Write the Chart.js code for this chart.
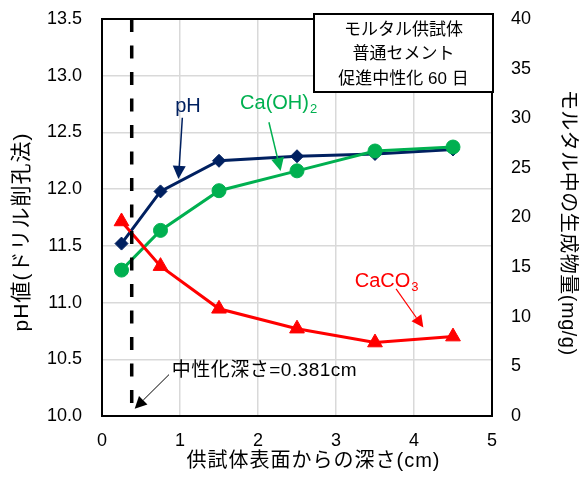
<!DOCTYPE html>
<html>
<head>
<meta charset="utf-8">
<script src="https://cdn.jsdelivr.net/npm/chart.js@4"></script>
<style>
  html, body { margin: 0; padding: 0; background: #fff; }
  #wrap { width: 579px; height: 479px; }
</style>
</head>
<body>
<div id="wrap"><canvas id="c" width="579" height="479"></canvas></div>
<script>
// Depth from the specimen surface (cm)
const depths = [0.25, 0.75, 1.5, 2.5, 3.5, 4.5];
// pH by drilling method (left axis)
const phValues = [11.52, 11.98, 12.25, 12.29, 12.31, 12.35];
// Products in mortar, mg/g (right axis)
const caOH2Values = [14.7, 18.7, 22.7, 24.7, 26.7, 27.1];
const caCO3Values = [19.6, 15.1, 10.8, 8.8, 7.4, 8.0];
// Carbonation depth (cm)
const carbonationDepth = 0.381;

// Axis ticks
const phTicks = [10.0, 10.5, 11.0, 11.5, 12.0, 12.5, 13.0, 13.5];
const amountTicks = [0, 5, 10, 15, 20, 25, 30, 35, 40];
const depthTicks = [0, 1, 2, 3, 4, 5];

// Axis titles
const xTitle = '供試体表面からの深さ(cm)';
const yTitle = 'pH値(ドリル削孔法)';
const y1Title = 'モルタル中の生成物量(mg/g)';

const boxLines = ['モルタル供試体', '普通セメント', '促進中性化 60 日'];

const NAVY = '#002060';
const GREEN = '#00B050';
const RED = '#FF0000';
const FONT = "'Liberation Sans', 'Noto Sans CJK JP', sans-serif";

Chart.defaults.font.family = FONT;
Chart.defaults.color = '#000';

const pts = (xs, ys) => xs.map((x, i) => ({ x, y: ys[i] }));

// Callout labels with arrows, placed in depth / pH units
const callouts = [
  { text: 'pH', sub: '', color: NAVY, size: 20, spacing: 0, align: 'center', at: [1.103, 12.73],
    from: [1.03, 12.63], to: [0.98, 12.09], lw: 1.5, head: 13 },
  { text: 'Ca(OH)', sub: '2', color: GREEN, size: 20, spacing: 0, align: 'left', at: [1.77, 12.757],
    from: [2.14, 12.59], to: [2.29, 12.16], lw: 1.5, head: 13 },
  { text: 'CaCO', sub: '3', color: RED, size: 20, spacing: 0, align: 'left', at: [3.24, 11.19],
    from: [3.77, 11.12], to: [4.12, 10.78], lw: 1.2, head: 12 },
  { text: '中性化深さ=' + carbonationDepth + 'cm', sub: '', color: '#000', size: 19, spacing: 0.5, align: 'left', at: [0.894, 10.397],
    from: [0.859, 10.365], to: [0.419, 10.065], lw: 1, head: 12 }
];

function arrow(ctx, x1, y1, x2, y2, color, lw, head) {
  const ang = Math.atan2(y2 - y1, x2 - x1);
  const bx = x2 - Math.cos(ang) * head, by = y2 - Math.sin(ang) * head;
  ctx.save();
  ctx.strokeStyle = color;
  ctx.fillStyle = color;
  ctx.lineWidth = lw;
  ctx.beginPath();
  ctx.moveTo(x1, y1);
  ctx.lineTo(bx, by);
  ctx.stroke();
  const hw = head * 0.5;
  ctx.beginPath();
  ctx.moveTo(x2, y2);
  ctx.lineTo(bx + Math.sin(ang) * hw, by - Math.cos(ang) * hw);
  ctx.lineTo(bx - Math.sin(ang) * hw, by + Math.cos(ang) * hw);
  ctx.closePath();
  ctx.fill();
  ctx.restore();
}

function rotatedText(ctx, text, x, y, rot, size, spacing) {
  ctx.save();
  ctx.translate(x, y);
  ctx.rotate(rot);
  ctx.font = size + 'px ' + FONT;
  ctx.letterSpacing = spacing + 'px';
  ctx.fillStyle = '#000';
  ctx.textAlign = 'center';
  ctx.textBaseline = 'middle';
  ctx.fillText(text, spacing / 2, 0);
  ctx.restore();
}

const notesPlugin = {
  id: 'notes',
  afterDatasetsDraw(chart) {
    const { ctx, chartArea: a, scales } = chart;
    const sx = scales.x, sy = scales.y;
    ctx.save();
    // top edge of the plot frame
    ctx.strokeStyle = '#000';
    ctx.lineWidth = 2;
    ctx.beginPath();
    ctx.moveTo(a.left - 1, a.top);
    ctx.lineTo(a.right + 1, a.top);
    ctx.stroke();

    callouts.forEach(c => {
      const px = sx.getPixelForValue(c.at[0]);
      const py = sy.getPixelForValue(c.at[1]);
      ctx.fillStyle = c.color;
      ctx.font = c.size + 'px ' + FONT;
      ctx.letterSpacing = c.spacing + 'px';
      ctx.textBaseline = 'middle';
      ctx.textAlign = c.align;
      ctx.fillText(c.text, px, py);
      if (c.sub) {
        const w = ctx.measureText(c.text).width;
        ctx.font = Math.round(c.size * 0.66) + 'px ' + FONT;
        ctx.textAlign = 'left';
        ctx.fillText(c.sub, px + w + 1, py + c.size * 0.3);
      }
      ctx.letterSpacing = '0px';
      arrow(ctx,
        sx.getPixelForValue(c.from[0]), sy.getPixelForValue(c.from[1]),
        sx.getPixelForValue(c.to[0]), sy.getPixelForValue(c.to[1]),
        c.color, c.lw, c.head);
    });

    // condition box in the top-right corner
    const bw = 179, bh = 78;
    const bx = a.right + 1 - bw, by = a.top - 5;
    ctx.fillStyle = '#fff';
    ctx.fillRect(bx, by, bw, bh);
    ctx.strokeStyle = '#000';
    ctx.lineWidth = 2;
    ctx.strokeRect(bx, by, bw, bh);
    ctx.fillStyle = '#000';
    ctx.font = '17px ' + FONT;
    ctx.textAlign = 'center';
    ctx.textBaseline = 'middle';
    boxLines.forEach((t, i) => ctx.fillText(t, bx + bw / 2, by + 16 + i * 24.5));
    ctx.restore();

    // axis titles
    const midY = (a.top + a.bottom) / 2;
    rotatedText(ctx, yTitle, 22, midY + 15, -Math.PI / 2, 21, 1);
    rotatedText(ctx, y1Title, chart.width - 11, midY + 5, Math.PI / 2, 20, 0.5);
    rotatedText(ctx, xTitle, (a.left + a.right) / 2 + 16, chart.height - 18, 0, 20, 1);
  }
};

new Chart(document.getElementById('c'), {
  type: 'line',
  data: {
    datasets: [
      {
        label: 'carbonation depth',
        data: [{ x: carbonationDepth, y: phTicks[phTicks.length - 1] }, { x: carbonationDepth, y: phTicks[0] }],
        yAxisID: 'y', borderColor: '#000', borderWidth: 3.5, borderDash: [13, 13.5],
        pointRadius: 0, order: 0
      },
      {
        label: 'CaCO3',
        data: pts(depths, caCO3Values),
        yAxisID: 'y1', borderColor: RED, backgroundColor: RED, borderWidth: 3,
        pointStyle: 'triangle', pointRadius: 8.5, pointBorderWidth: 1, order: 1
      },
      {
        label: 'Ca(OH)2',
        data: pts(depths, caOH2Values),
        yAxisID: 'y1', borderColor: GREEN, backgroundColor: GREEN, borderWidth: 3,
        pointStyle: 'circle', pointRadius: 7, pointBorderWidth: 1, order: 2
      },
      {
        label: 'pH',
        data: pts(depths, phValues),
        yAxisID: 'y', borderColor: NAVY, backgroundColor: NAVY, borderWidth: 3,
        pointStyle: 'rectRot', pointRadius: 6.5, pointBorderWidth: 1, order: 3
      }
    ]
  },
  options: {
    responsive: false,
    animation: false,
    layout: { padding: { top: 19, left: 0, right: 0, bottom: 0 } },
    plugins: { legend: { display: false }, tooltip: { enabled: false } },
    scales: {
      x: {
        type: 'linear',
        min: depthTicks[0], max: depthTicks[depthTicks.length - 1],
        afterBuildTicks: s => { s.ticks = depthTicks.map(v => ({ value: v })); },
        afterFit: s => { s.height = 63; s.paddingLeft = 0; s.paddingRight = 0; },
        grid: { color: '#d9d9d9', lineWidth: 1.5, drawTicks: false },
        border: { color: '#000', width: 2 },
        ticks: { font: { size: 18 }, padding: 14, color: '#000' }
      },
      y: {
        position: 'left',
        min: phTicks[0], max: phTicks[phTicks.length - 1],
        afterBuildTicks: s => { s.ticks = phTicks.map(v => ({ value: v })); },
        afterFit: s => { s.width = 102; s.paddingTop = 0; s.paddingBottom = 0; },
        grid: { color: '#d9d9d9', lineWidth: 1.5, drawTicks: false },
        border: { color: '#000', width: 2 },
        ticks: { font: { size: 18 }, padding: 20, color: '#000', callback: v => Number(v).toFixed(1) }
      },
      y1: {
        position: 'right',
        min: amountTicks[0], max: amountTicks[amountTicks.length - 1],
        afterBuildTicks: s => { s.ticks = amountTicks.map(v => ({ value: v })); },
        afterFit: s => { s.width = 87; s.paddingTop = 0; s.paddingBottom = 0; },
        grid: { display: false, drawTicks: false },
        border: { color: '#000', width: 2 },
        ticks: { font: { size: 18 }, padding: 19, color: '#000' }
      }
    }
  },
  plugins: [notesPlugin]
});
</script>
</body>
</html>
